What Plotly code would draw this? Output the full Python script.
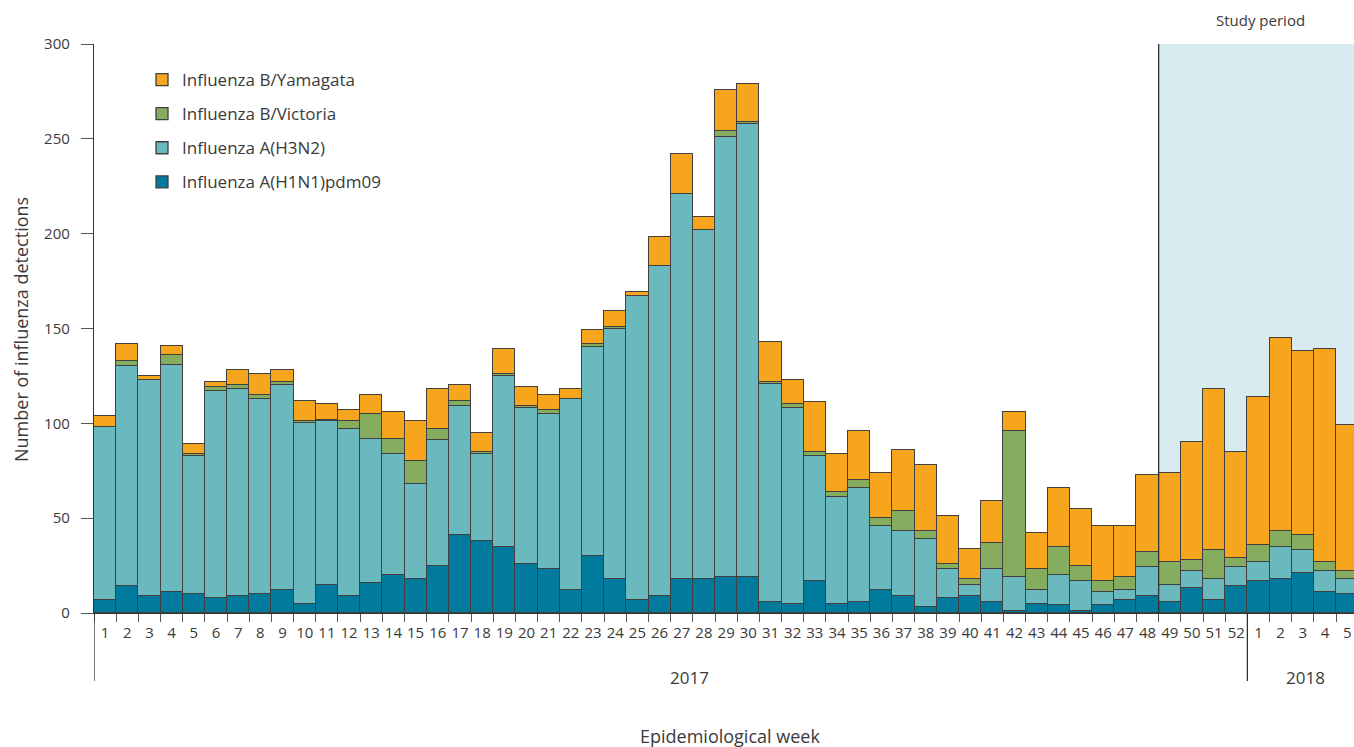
import plotly.graph_objects as go

weeks_2017 = [str(i) for i in range(1, 53)]
weeks_2018 = [str(i) for i in range(1, 6)]
week_labels = weeks_2017 + weeks_2018

h1n1 = [7, 14, 9, 11, 10, 8, 9, 10, 12, 5, 15, 9, 16, 20, 18, 25, 41, 38, 35, 26,
        23, 12, 30, 18, 7, 9, 18, 18, 19, 19, 6, 5, 17, 5, 6, 12, 9, 3, 8, 9,
        6, 1, 5, 4, 1, 4, 7, 9, 6, 13, 7, 14,
        17, 18, 21, 11, 10]
h3n2 = [91, 116, 114, 120, 73, 109, 109, 103, 108, 95, 86, 88, 76, 64, 50, 66, 68, 46, 90, 82,
        82, 101, 110, 132, 160, 174, 203, 184, 232, 239, 115, 103, 66, 56, 60, 34, 34, 36, 15, 6,
        17, 18, 7, 16, 16, 7, 5, 15, 9, 9, 11, 10,
        10, 17, 12, 11, 8]
victoria = [0, 3, 0, 5, 1, 2, 2, 2, 2, 1, 1, 4, 13, 8, 12, 6, 3, 1, 1, 1,
            2, 0, 2, 1, 0, 0, 0, 0, 3, 1, 1, 2, 2, 3, 4, 4, 11, 4, 3, 3,
            14, 77, 11, 15, 8, 6, 7, 8, 12, 6, 15, 5,
            9, 8, 8, 5, 4]
yamagata = [6, 9, 2, 5, 5, 3, 8, 11, 6, 11, 8, 6, 10, 14, 21, 21, 8, 10, 13, 10,
            8, 5, 7, 8, 2, 15, 21, 7, 22, 20, 21, 13, 26, 20, 26, 24, 32, 35, 25, 16,
            22, 10, 19, 31, 30, 29, 27, 41, 47, 62, 85, 56,
            78, 102, 97, 112, 77]

series_names = ["Influenza A(H1N1)pdm09", "Influenza A(H3N2)", "Influenza B/Victoria", "Influenza B/Yamagata"]
series_values = [h1n1, h3n2, victoria, yamagata]
series_colors = ["#007B9E", "#69B9BE", "#86AD5F", "#F7A51D"]

study_start_week = 49  # 2017 week 49
year_labels = ["2017", "2018"]

x = list(range(1, len(week_labels) + 1))
FONT = "Open Sans"
TXT = "#3a3a3a"

fig = go.Figure()
n_series = len(series_names)
for i, (name, vals, col) in enumerate(zip(series_names, series_values, series_colors)):
    fig.add_trace(go.Bar(
        x=x, y=vals, name=name, marker=dict(color=col, line=dict(color="#404040", width=1.3)),
        legendgroup=f"g{i}", legendrank=1000 + n_series - i, hoverinfo="y+name"))

W = 1354
H = 747
L, R, T, B = 94, 0, 44, 134
pw = W - L - R
ph = H - T - B
bar_px = 22.18
x_max = 0.5 + pw / bar_px

n2017 = len(weeks_2017)
study_x0 = study_start_week - 0.5
sep_x = n2017 + 0.5

def py(px):
    """pixel row in the window -> paper y"""
    return (613 - px) / ph

fig.add_shape(type="rect", xref="x", yref="y", x0=study_x0, x1=x_max, y0=0, y1=300,
              fillcolor="#D8EBF1", line=dict(width=0), layer="below")
fig.add_shape(type="line", xref="x", yref="y", x0=study_x0, x1=study_x0, y0=0, y1=300,
              line=dict(color="#333333", width=1.3), layer="above")
for xv in [0.5, sep_x]:
    fig.add_shape(type="line", xref="x", yref="paper", x0=xv, x1=xv, y0=0, y1=py(681),
                  line=dict(color="#333333", width=1.3))

fig.add_annotation(xref="paper", yref="paper", x=(1260 - 94) / pw, y=py(20), text="Study period",
                   showarrow=False, font=dict(family=FONT, size=15, color=TXT),
                   xanchor="center", yanchor="middle")
fig.add_annotation(xref="x", yref="paper", x=27.37, y=py(677), text=year_labels[0],
                   showarrow=False, font=dict(family=FONT, size=17, color=TXT),
                   xanchor="center", yanchor="middle")
fig.add_annotation(xref="x", yref="paper", x=55.14, y=py(677), text=year_labels[1],
                   showarrow=False, font=dict(family=FONT, size=17, color=TXT),
                   xanchor="center", yanchor="middle")
fig.add_annotation(xref="paper", yref="paper", x=(730 - 94) / pw, y=py(736), text="Epidemiological week",
                   showarrow=False, font=dict(family=FONT, size=18, color=TXT),
                   xanchor="center", yanchor="middle")
fig.add_annotation(xref="paper", yref="paper", x=(21 - 94) / pw, y=py(330), text="Number of influenza detections",
                   textangle=-90, showarrow=False, font=dict(family=FONT, size=18, color=TXT),
                   xanchor="center", yanchor="middle")

fig.update_layout(
    width=W, height=H,
    margin=dict(l=L, r=R, t=T, b=B),
    paper_bgcolor="white", plot_bgcolor="white",
    barmode="stack", bargap=0,
    font=dict(family=FONT, color=TXT),
    showlegend=True,
    legend=dict(x=(142 - 94) / pw, y=py(62), xanchor="left", yanchor="top", traceorder="grouped",
                tracegroupgap=9, font=dict(family=FONT, size=17, color=TXT),
                bgcolor="rgba(0,0,0,0)"),
    xaxis=dict(range=[0.5, x_max], tickmode="array", tickvals=x, ticktext=week_labels,
               ticks="", ticklabelstandoff=6, tickfont=dict(family=FONT, size=15, color=TXT),
               showline=True, linecolor="#333333", linewidth=1.3, showgrid=False, zeroline=False,
               minor=dict(tickmode="array", tickvals=[v + 0.5 for v in [0] + x], ticks="outside",
                          ticklen=8, tickcolor="#555555", tickwidth=1.2, showgrid=False)),
    yaxis=dict(range=[0, 300], tickmode="linear", tick0=0, dtick=50, ticks="outside", ticklen=12,
               tickcolor="#555555", tickwidth=1.2, tickfont=dict(family=FONT, size=15, color=TXT),
               showline=True, linecolor="#333333", linewidth=1.3, showgrid=False, zeroline=False,
               ticklabelstandoff=8),
)

fig.write_html("out.html", config={"displayModeBar": False},
               post_script="document.body.style.margin='0';document.body.style.overflow='hidden';")
